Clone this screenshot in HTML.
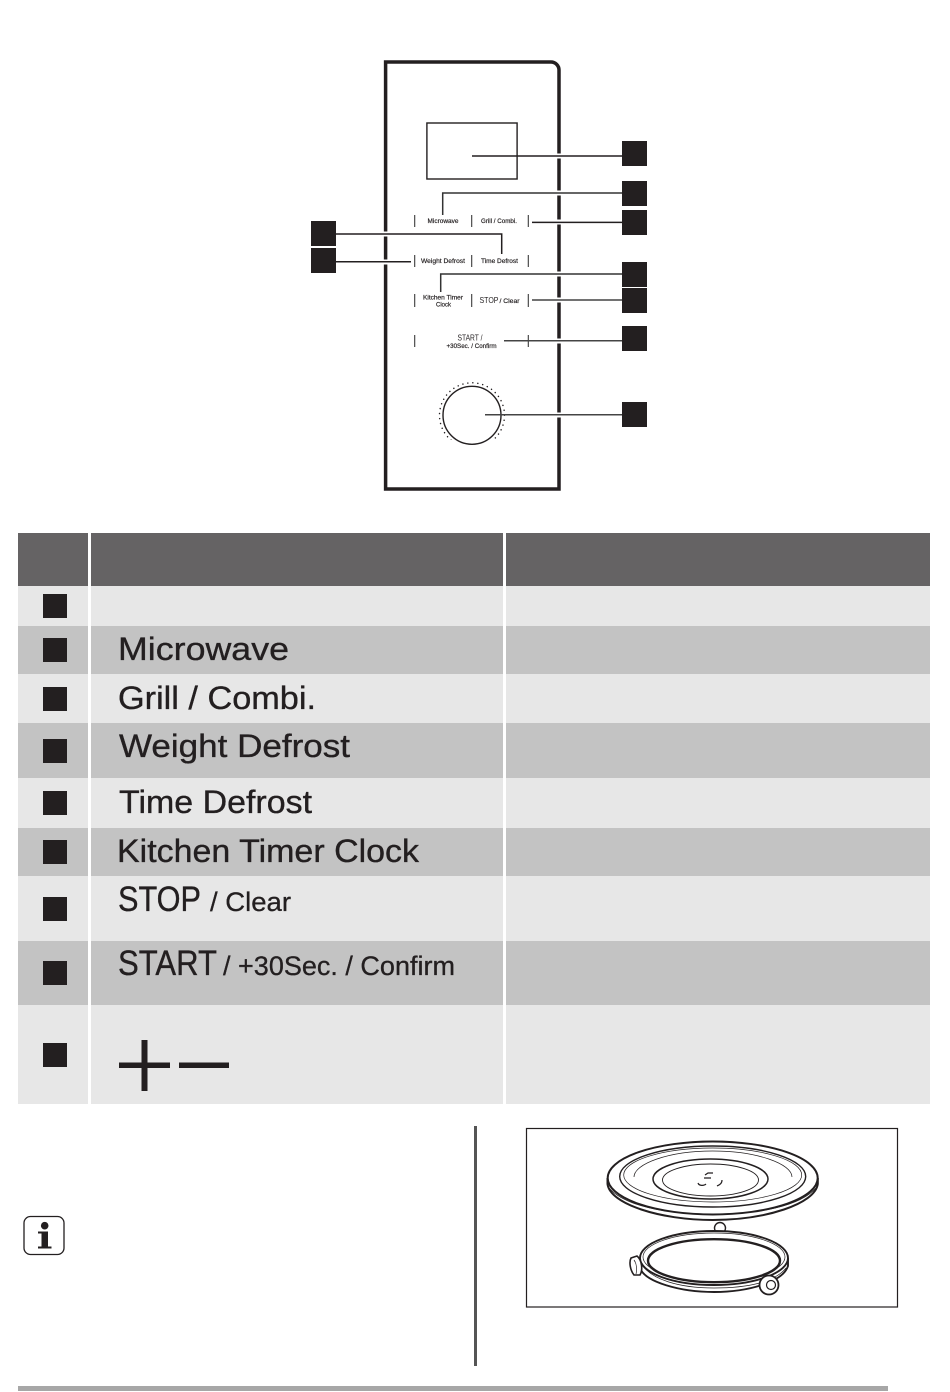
<!DOCTYPE html>
<html><head><meta charset="utf-8"><title>Control panel</title>
<style>
html,body{margin:0;padding:0;background:#fff;width:950px;height:1392px;overflow:hidden}
svg{display:block}
text{font-family:"Liberation Sans",sans-serif;fill:#231f20}
.b{font-size:32px;stroke:#231f20;stroke-width:.35px}
.m{font-size:27px;stroke:#231f20;stroke-width:.3px}
.s{font-size:6px;stroke:#231f20;stroke-width:.18px}
</style></head><body>
<svg width="950" height="1392" viewBox="0 0 950 1392" xmlns="http://www.w3.org/2000/svg">
<rect width="950" height="1392" fill="#fff"/>

<!-- panel -->
<path d="M385.6 62H551a8 8 0 0 1 8 8V489H385.6Z" fill="none" stroke="#231f20" stroke-width="3.5"/>
<rect x="426.9" y="123" width="90.2" height="56" fill="none" stroke="#231f20" stroke-width="1.4"/>

<!-- halos -->
<g stroke="#fff" stroke-width="5" fill="none">
<path d="M553 156H565M553 193H565M553 222H565M553 274H565M553 300H565M553 341H565M553 415H565"/>
<path d="M380 234H392M380 262H392"/>
</g>

<!-- ticks -->
<g stroke="#3a3a3a" stroke-width="1.1" fill="none">
<path d="M414.7 215V227M471.7 215V227M528.3 215V227"/>
<path d="M414.7 255V267M471.7 255V267M528.3 255V267"/>
<path d="M414.7 294V307M471.7 294V307M528.3 294V307"/>
<path d="M414.7 335V347M528.3 335V347"/>
</g>

<!-- dial -->
<circle cx="472" cy="415.3" r="32.5" fill="none" stroke="#231f20" stroke-width="1.5" stroke-linecap="round" stroke-dasharray="0.01 5" pathLength="204" transform="rotate(130 472 415.3)"/>
<rect x="450" y="440" width="44" height="12" fill="#fff"/>
<circle cx="472" cy="415.3" r="29" fill="none" stroke="#231f20" stroke-width="1.4"/>

<!-- leaders -->
<g stroke="#231f20" stroke-width="1.5" fill="none">
<path d="M472 156H622"/>
<path d="M442.7 215V193H622" stroke="#333"/>
<path d="M532 222.4H622"/>
<path d="M336 234H501.7V254"/>
<path d="M336 261.7H411"/>
<path d="M440.7 292V274H622" stroke="#333"/>
<path d="M532 300H622" stroke="#444"/>
<path d="M504 340.7H622" stroke="#444"/>
<path d="M485 414.7H622" stroke="#444"/>
</g>

<!-- callout squares -->
<g fill="#231f20">
<rect x="622" y="141" width="25" height="25"/>
<rect x="622" y="181" width="25" height="25"/>
<rect x="622" y="210" width="25" height="25"/>
<rect x="622" y="262" width="25" height="25"/>
<rect x="622" y="288" width="25" height="25"/>
<rect x="622" y="326" width="25" height="25"/>
<rect x="622" y="402" width="25" height="25"/>
<rect x="311" y="221" width="25" height="25"/>
<rect x="311" y="248" width="25" height="25"/>
</g>

<!-- panel labels -->
<g text-anchor="middle">
<text class="s" x="443" y="223" textLength="31" lengthAdjust="spacingAndGlyphs">Microwave</text>
<text class="s" x="499" y="223" textLength="36" lengthAdjust="spacingAndGlyphs">Grill / Combi.</text>
<text class="s" x="443" y="263" textLength="44" lengthAdjust="spacingAndGlyphs">Weight Defrost</text>
<text class="s" x="499.5" y="263" textLength="37" lengthAdjust="spacingAndGlyphs">Time Defrost</text>
<text class="s" x="443" y="299.5" textLength="40" lengthAdjust="spacingAndGlyphs">Kitchen Timer</text>
<text class="s" x="443.5" y="306.5">Clock</text>
<text x="489" y="303" textLength="19" lengthAdjust="spacingAndGlyphs" style="font-size:8px">STOP</text>
<text class="s" x="509.5" y="303" textLength="20" lengthAdjust="spacingAndGlyphs">/ Clear</text>
<text x="470" y="340.5" style="font-size:8px" textLength="25" lengthAdjust="spacingAndGlyphs">START /</text>
<text class="s" x="471.5" y="348" textLength="50" lengthAdjust="spacingAndGlyphs">+30Sec. / Confirm</text>
</g>

<!-- table -->
<g>
<rect x="18" y="533" width="70" height="53" fill="#656364"/>
<rect x="91" y="533" width="412" height="53" fill="#656364"/>
<rect x="506" y="533" width="424" height="53" fill="#656364"/>

<rect x="18" y="586" width="70" height="40" fill="#e7e7e7"/><rect x="91" y="586" width="412" height="40" fill="#e7e7e7"/><rect x="506" y="586" width="424" height="40" fill="#e7e7e7"/>
<rect x="18" y="626" width="70" height="48" fill="#c3c3c3"/><rect x="91" y="626" width="412" height="48" fill="#c3c3c3"/><rect x="506" y="626" width="424" height="48" fill="#c3c3c3"/>
<rect x="18" y="674" width="70" height="49" fill="#e7e7e7"/><rect x="91" y="674" width="412" height="49" fill="#e7e7e7"/><rect x="506" y="674" width="424" height="49" fill="#e7e7e7"/>
<rect x="18" y="723" width="70" height="55" fill="#c3c3c3"/><rect x="91" y="723" width="412" height="55" fill="#c3c3c3"/><rect x="506" y="723" width="424" height="55" fill="#c3c3c3"/>
<rect x="18" y="778" width="70" height="50" fill="#e7e7e7"/><rect x="91" y="778" width="412" height="50" fill="#e7e7e7"/><rect x="506" y="778" width="424" height="50" fill="#e7e7e7"/>
<rect x="18" y="828" width="70" height="48" fill="#c3c3c3"/><rect x="91" y="828" width="412" height="48" fill="#c3c3c3"/><rect x="506" y="828" width="424" height="48" fill="#c3c3c3"/>
<rect x="18" y="876" width="70" height="65" fill="#e7e7e7"/><rect x="91" y="876" width="412" height="65" fill="#e7e7e7"/><rect x="506" y="876" width="424" height="65" fill="#e7e7e7"/>
<rect x="18" y="941" width="70" height="64" fill="#c3c3c3"/><rect x="91" y="941" width="412" height="64" fill="#c3c3c3"/><rect x="506" y="941" width="424" height="64" fill="#c3c3c3"/>
<rect x="18" y="1005" width="70" height="99" fill="#e7e7e7"/><rect x="91" y="1005" width="412" height="99" fill="#e7e7e7"/><rect x="506" y="1005" width="424" height="99" fill="#e7e7e7"/>
</g>
<g fill="#231f20">
<rect x="43" y="594" width="24" height="24"/>
<rect x="43" y="638" width="24" height="24"/>
<rect x="43" y="687" width="24" height="24"/>
<rect x="43" y="739" width="24" height="24"/>
<rect x="43" y="791" width="24" height="24"/>
<rect x="43" y="840" width="24" height="24"/>
<rect x="43" y="897" width="24" height="24"/>
<rect x="43" y="961" width="24" height="24"/>
<rect x="43" y="1043" width="24" height="24"/>
</g>
<text class="b" x="118" y="660" textLength="171" lengthAdjust="spacingAndGlyphs">Microwave</text>
<text class="b" x="118" y="709" textLength="198" lengthAdjust="spacingAndGlyphs">Grill / Combi.</text>
<text class="b" x="119" y="757" textLength="231" lengthAdjust="spacingAndGlyphs">Weight Defrost</text>
<text class="b" x="119" y="813" textLength="193" lengthAdjust="spacingAndGlyphs">Time Defrost</text>
<text class="b" x="117" y="862" textLength="302" lengthAdjust="spacingAndGlyphs">Kitchen Timer Clock</text>
<text class="b" x="118" y="911" textLength="83" lengthAdjust="spacingAndGlyphs" style="font-size:35px">STOP</text>
<text class="m" x="210" y="911" textLength="81" lengthAdjust="spacingAndGlyphs">/ Clear</text>
<text class="b" x="118" y="975" textLength="99" lengthAdjust="spacingAndGlyphs" style="font-size:35px">START</text>
<text class="m" x="223" y="975" textLength="232" lengthAdjust="spacingAndGlyphs">/ +30Sec. / Confirm</text>
<g fill="#231f20">
<rect x="119" y="1062.5" width="51" height="5.5"/>
<rect x="141.5" y="1040" width="6" height="51"/>
<rect x="179" y="1062.5" width="50" height="5.5"/>
</g>

<!-- info icon -->
<rect x="24" y="1216.5" width="40" height="38" rx="6.5" fill="#fff" stroke="#231f20" stroke-width="1.3"/>
<circle cx="44.7" cy="1225.7" r="3.8" fill="#231f20"/>
<path d="M38 1231.5H48V1246.5H51.5V1248.5H38V1246.5H41.5V1233.5H38Z" fill="#231f20"/>

<!-- divider -->
<rect x="474" y="1126" width="3" height="240" fill="#555"/>

<!-- turntable -->
<rect x="526.5" y="1128.5" width="371" height="178.5" fill="#fff" stroke="#231f20" stroke-width="1.2"/>
<g fill="none" stroke="#231f20">
<path d="M607.5 1178V1184C610 1204 660 1220 712.7 1220S815 1204 817.8 1184V1178" stroke-width="2" fill="#fff"/>
<ellipse cx="712.7" cy="1178" rx="105" ry="36.5" stroke-width="2" fill="#fff"/>
<path d="M609 1188C625 1206 665 1214 712.7 1214S800 1206 816 1188" stroke-width=".8"/>
<ellipse cx="712.7" cy="1176.5" rx="93" ry="30.5" stroke-width="1.4"/>
<ellipse cx="712.7" cy="1175" rx="89" ry="27" stroke-width=".7"/>
<path d="M634 1177C634 1164 668 1151 712.7 1151S792 1164 792 1177" stroke-width=".7"/>
<ellipse cx="710.5" cy="1179" rx="57.5" ry="20" stroke-width="1.5"/>
<ellipse cx="710.5" cy="1180" rx="48" ry="16" stroke-width=".9"/>
<path d="M705 1175L708 1173H713M704 1178H711M698 1183C699 1186 704 1186 706 1184M717 1186C719 1185 722 1184 722 1180" stroke-width="1.2"/>

<!-- ring -->
<circle cx="720" cy="1228" r="5.5" stroke-width="1.4" fill="#fff"/>
<path d="M640 1258V1268C645 1282 680 1292 714 1292S783 1282 788 1266V1258" stroke-width="1.9" fill="#fff"/>
<ellipse cx="714" cy="1258" rx="74" ry="27" stroke-width="1.9" fill="#fff"/>
<ellipse cx="714" cy="1257" rx="71" ry="24" stroke-width=".7"/>
<ellipse cx="714" cy="1260.7" rx="66" ry="21.5" stroke-width="2.4" fill="#fff"/>
<path d="M640 1262C650 1280 680 1288 714 1288S775 1282 786 1268" stroke-width=".7"/>
<path d="M631 1258L637 1256C642 1260 643 1270 640 1275L634 1275C630 1270 629 1262 631 1258Z" stroke-width="1.6" fill="#fff"/>
<path d="M634 1260C637 1264 637 1270 636 1274" stroke-width=".7"/>
<circle cx="769" cy="1285" r="9.5" stroke-width="1.8" fill="#fff"/>
<circle cx="771" cy="1285" r="4.5" stroke-width="1.2"/>
</g>

<!-- bottom bar -->
<rect x="18" y="1386" width="870" height="5" fill="#a7a7a7"/>
</svg>
</body></html>
